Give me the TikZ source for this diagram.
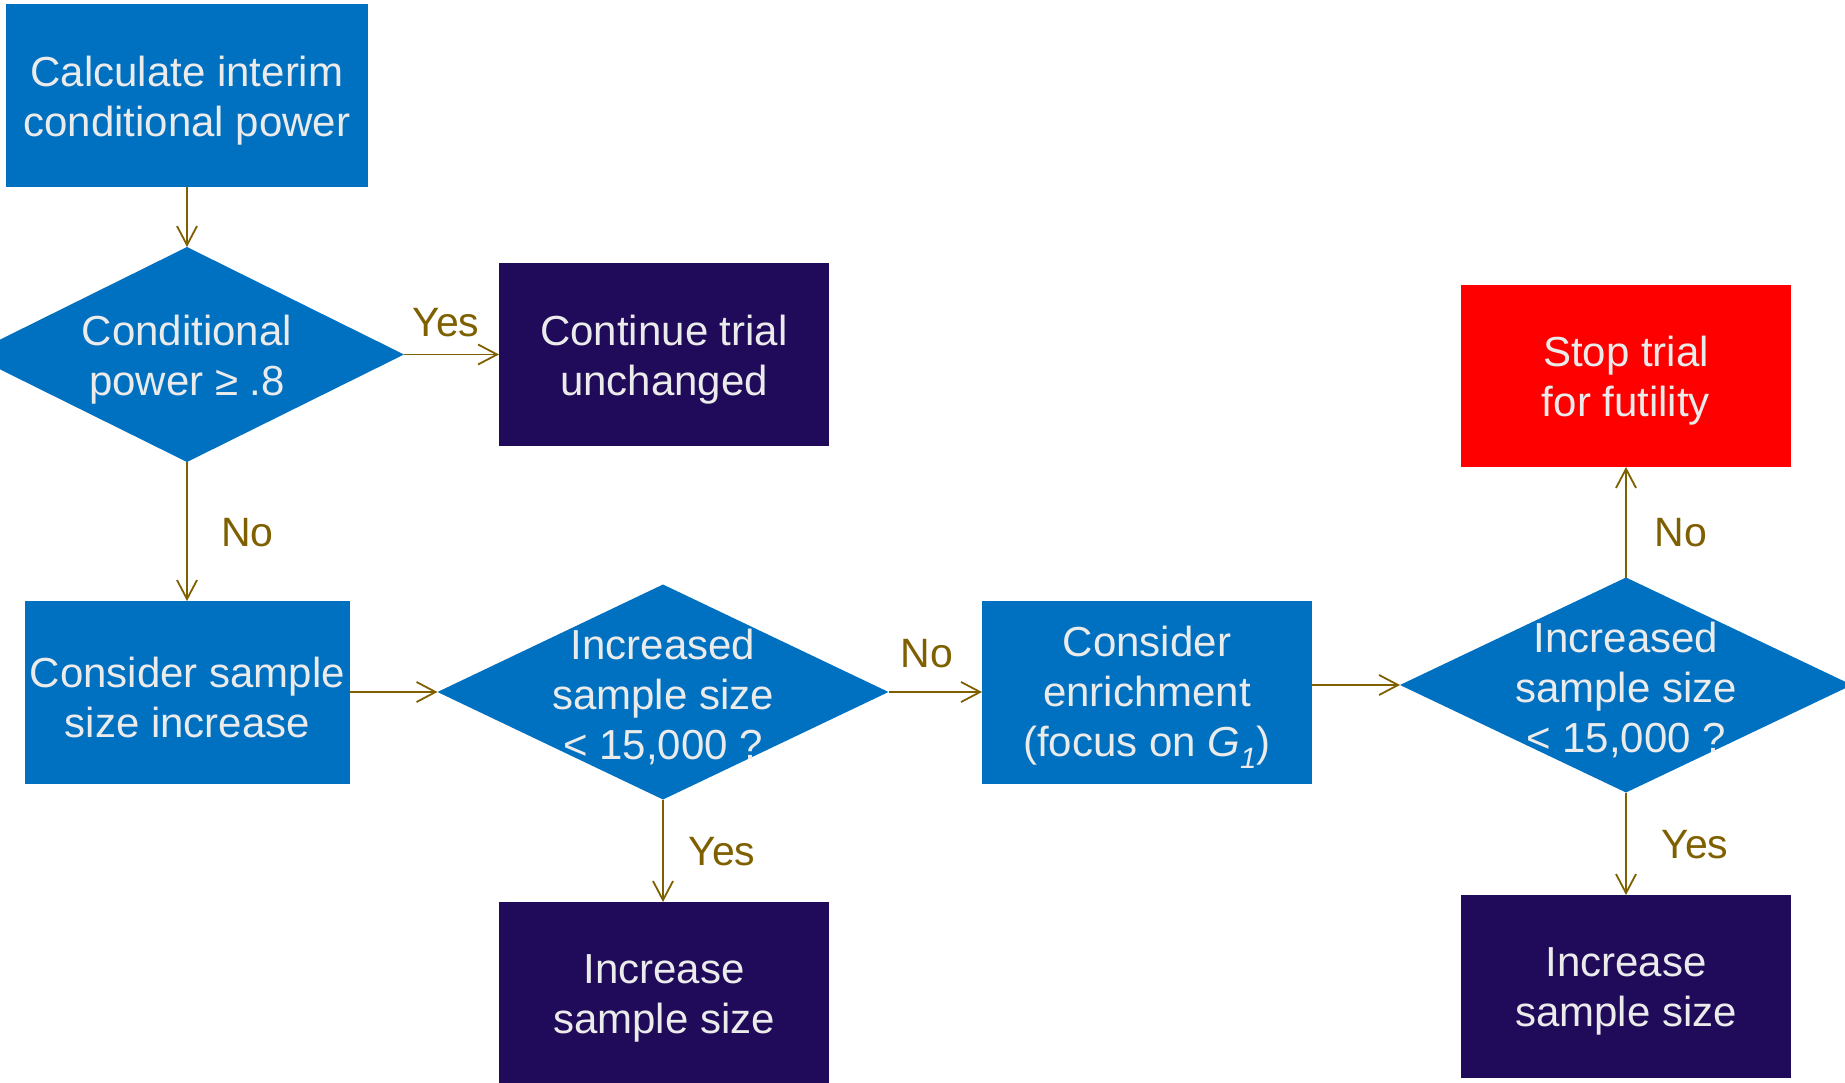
\documentclass[tikz,border=0pt]{standalone}
\usepackage{fontspec}
\setmainfont{Liberation Sans}
\usetikzlibrary{shapes.geometric,arrows.meta}
\definecolor{flowblue}{HTML}{0070C0}
\definecolor{flownavy}{HTML}{200B5A}
\definecolor{flowred}{HTML}{FF0000}
\definecolor{flowtext}{HTML}{EBEBEB}
\definecolor{flowline}{HTML}{7F6000}

\begin{document}
\begin{tikzpicture}[x=1pt,y=-1pt,
  box/.style={rectangle, inner sep=0pt, outer sep=0pt, minimum height=183pt},
  process/.style={box, fill=flowblue},
  outcome/.style={box, fill=flownavy},
  stopbox/.style={box, fill=flowred},
  decision/.style={diamond, fill=flowblue, inner sep=0pt, outer sep=0pt, minimum height=215pt},
  % centred white text set inside a shape
  intext/.style={text=flowtext, align=center, font=\fontsize{42}{50}\selectfont,
    inner sep=0pt, yshift=-5pt},
  flow/.style={draw=flowline, line width=1.8pt, -{Straight Barb[length=19pt,width=20pt]}},
  lab/.style={text=flowline, font=\fontsize{41}{48}\selectfont, inner sep=0pt, anchor=base},
]
\useasboundingbox (0,0) rectangle (1845,1083);

% process boxes
\node[process, minimum width=362pt,
  label={[intext]center:{Calculate interim\\conditional power}}] (calc) at (187,95.5) {};
\node[process, minimum width=325pt,
  label={[intext]center:{Consider sample\\size increase}}] (cons) at (187.5,692.5) {};
\node[process, minimum width=330pt,
  label={[intext]center:{Consider\\enrichment\\(focus on \textit{G}\textsubscript{\itshape 1})}}] (enrich) at (1147,692.5) {};

% outcome boxes
\node[outcome, minimum width=330pt,
  label={[intext]center:{Continue trial\\unchanged}}] (cont) at (664,354.5) {};
\node[outcome, minimum width=330pt,
  label={[intext]center:{Increase\\sample size}}] (incA) at (664,993.5) {};
\node[outcome, minimum width=330pt,
  label={[intext]center:{Increase\\sample size}}] (incB) at (1626,986.5) {};
\node[stopbox, minimum width=330pt, minimum height=182pt,
  label={[intext]center:{Stop trial\\for futility}}] (stop) at (1626,376) {};

% decisions
\node[decision, minimum width=434pt,
  label={[intext]center:{Conditional\\power ≥ .8}}] (dA) at (187,354.5) {};
\node[decision, minimum width=451pt,
  label={[intext]center:{Increased\\sample size\\< 15,000 ?}}] (dB) at (663,692) {};
\node[decision, minimum width=452pt,
  label={[intext]center:{Increased\\sample size\\< 15,000 ?}}] (dC) at (1626,685) {};

% connectors
\draw[flow] (calc.south) -- (dA.north);
\draw[flow] (dA.east) -- (cont.west |- dA.east);
\draw[flow] (dA.south) -- (dA.south |- cons.north);
\draw[flow] (cons.east |- dB.west) -- (dB.west);
\draw[flow] (dB.south) -- (dB.south |- incA.north);
\draw[flow] (dB.east) -- (enrich.west |- dB.east);
\draw[flow] (enrich.east |- dC.west) -- (dC.west);
\draw[flow] (dC.north) -- (stop.south);
\draw[flow] (dC.south) -- (incB.north);

% branch labels
\node[lab] (yesA) at (446,337) {Yes};
\node[lab] (noA) at (247.5,546) {No};
\node[lab] (yesB) at (722,865) {Yes};
\node[lab] (noB) at (927,667) {No};
\node[lab] (noC) at (1681,546) {No};
\node[lab] (yesC) at (1695,858) {Yes};
\end{tikzpicture}
\end{document}
